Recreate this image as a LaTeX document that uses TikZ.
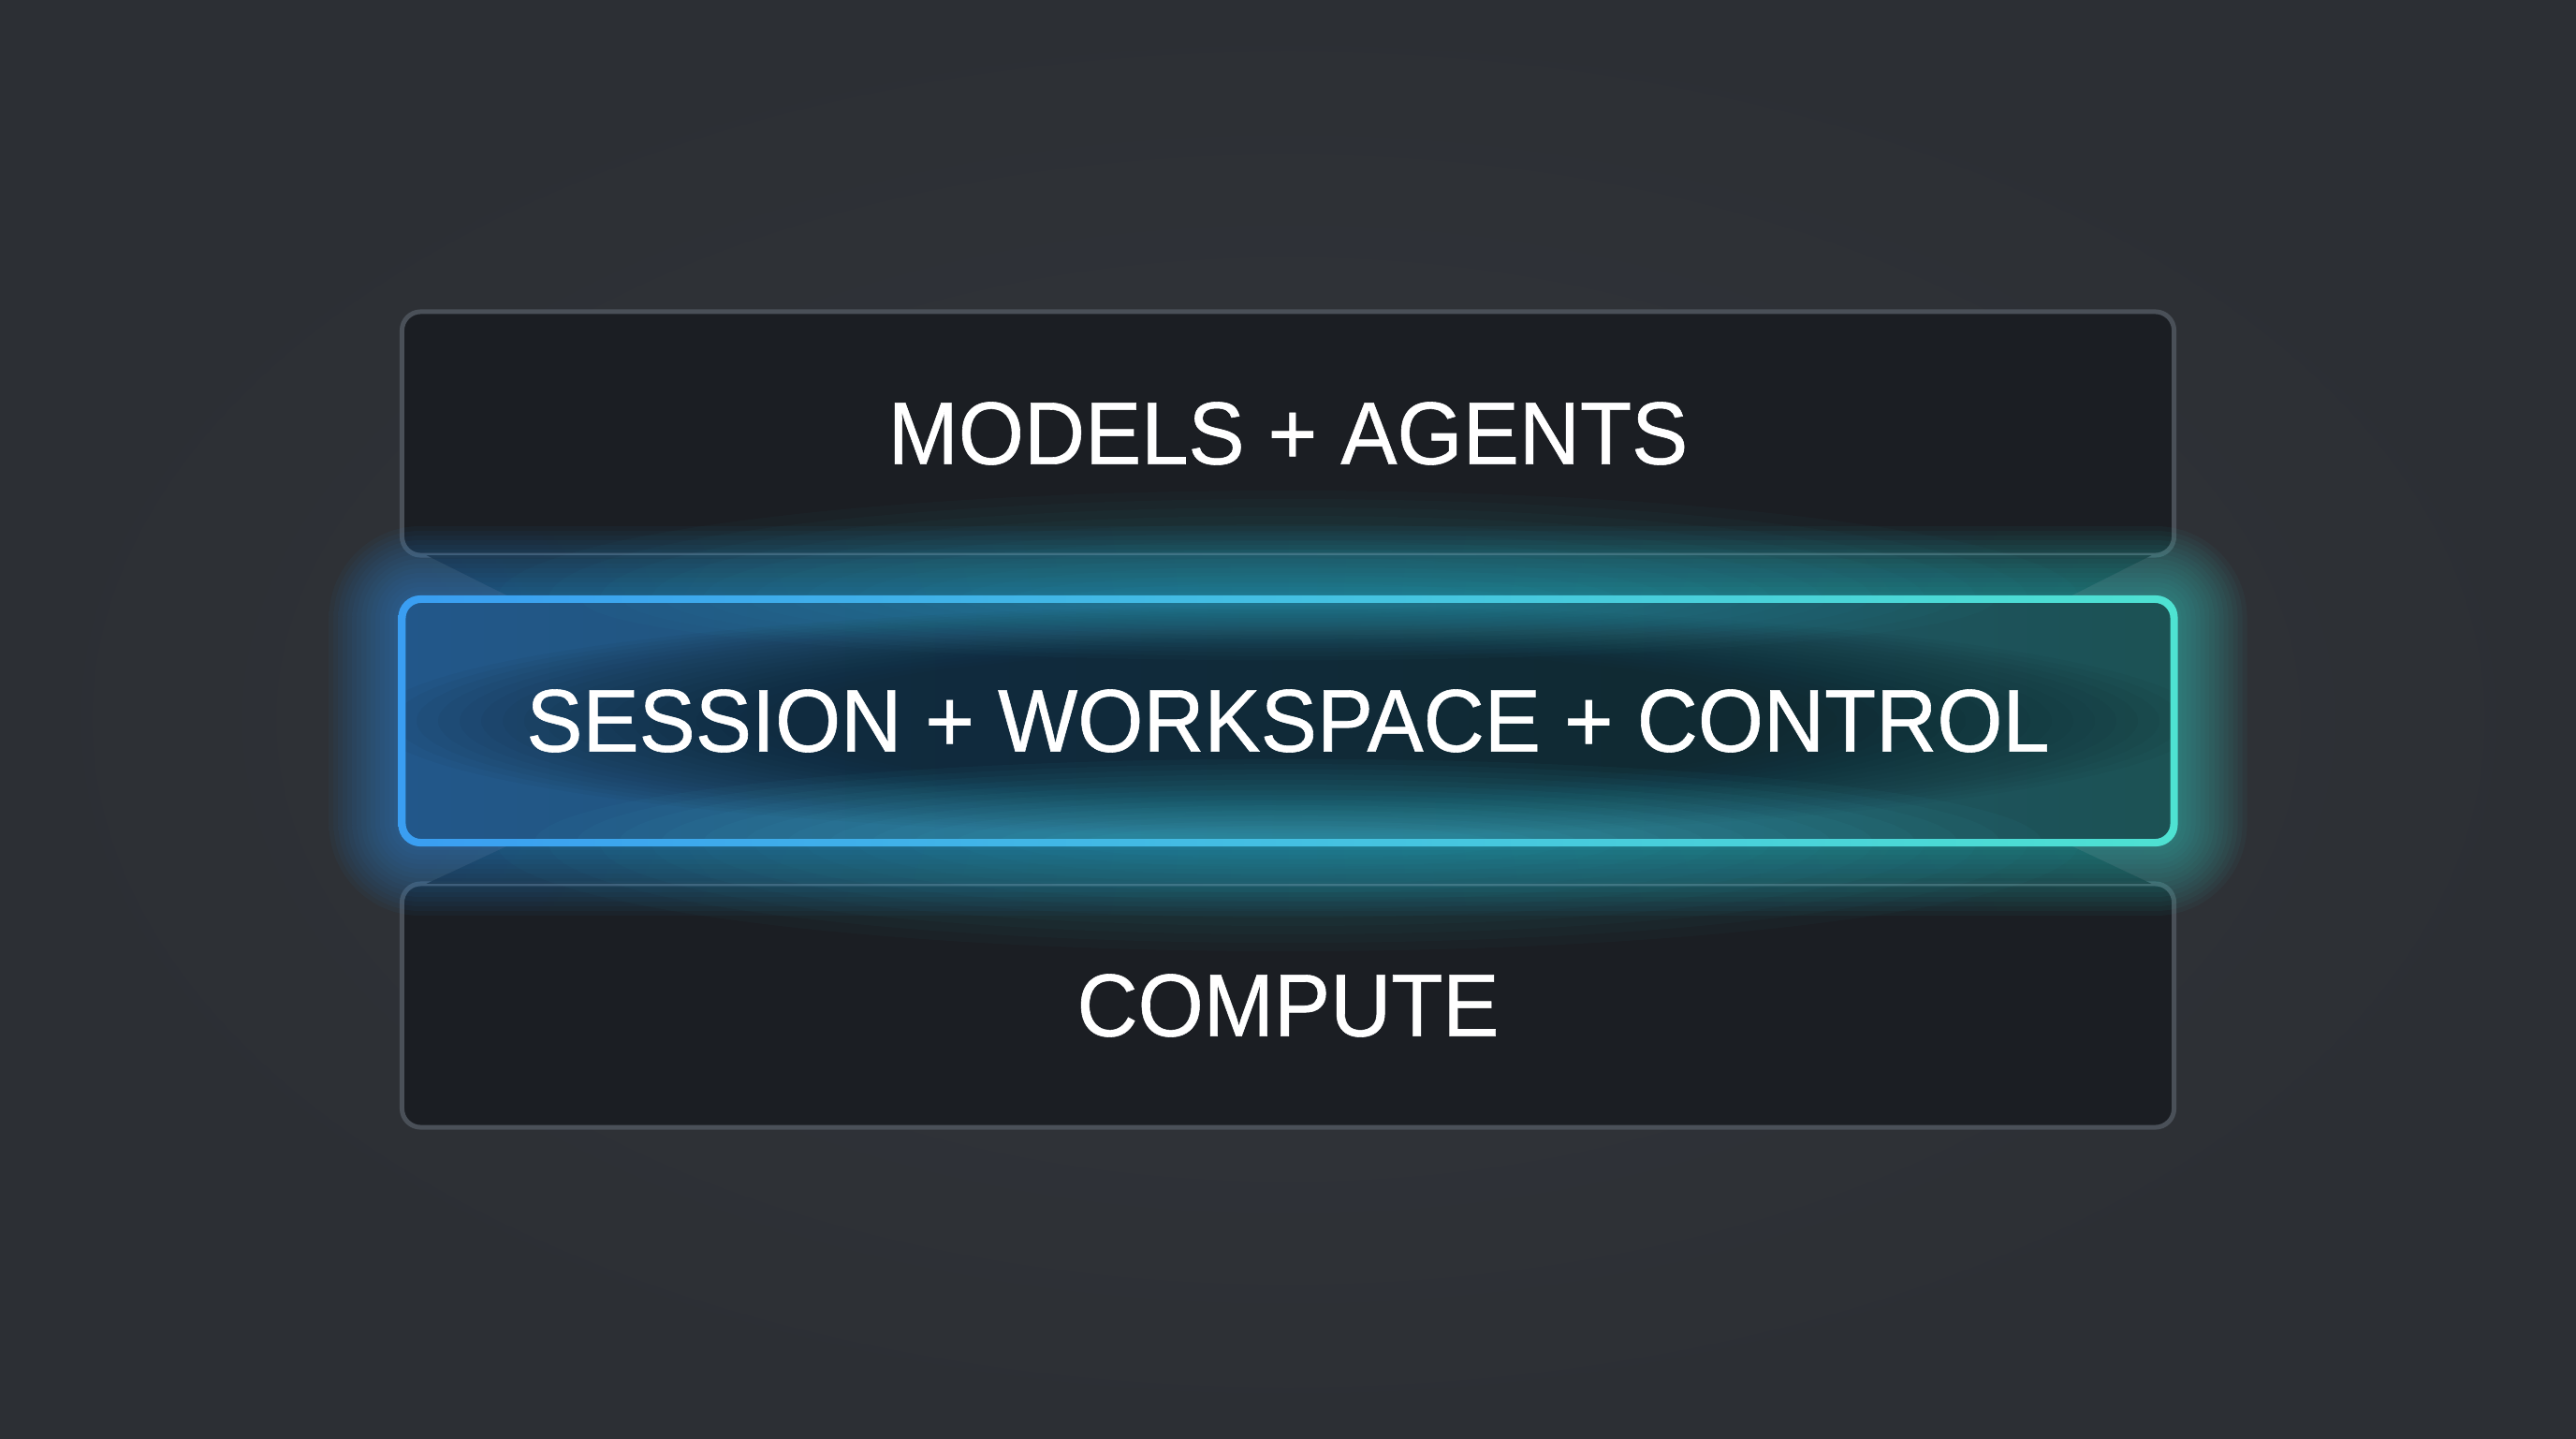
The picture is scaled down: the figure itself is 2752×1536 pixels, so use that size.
\documentclass[tikz,border=0pt]{standalone}
\usepackage{fontspec}
\newfontfamily\lab[FakeStretch=0.95,FakeBold=0.6]{Liberation Sans}
\usetikzlibrary{calc}
\definecolor{bgin}{HTML}{33363C}
\definecolor{bgout}{HTML}{2C2F34}
\definecolor{boxfill}{HTML}{1B1E23}
\definecolor{boxline}{HTML}{4A5058}
\definecolor{gblue}{HTML}{2A8FE8}
\definecolor{gteal}{HTML}{2FD0C8}
\definecolor{gcyan}{HTML}{45D8E8}
\definecolor{lblue}{HTML}{3A9EF2}
\definecolor{lmid}{HTML}{70E4F2}
\definecolor{lteal}{HTML}{4EE2D2}
\definecolor{inblue}{HTML}{22578A}
\definecolor{inmid}{HTML}{1A3C4A}
\definecolor{inteal}{HTML}{1C5254}
\definecolor{darkc}{HTML}{10171D}
\begin{document}
\begin{tikzpicture}[x=0.01cm,y=-0.01cm,
  layerbox/.style={rectangle, rounded corners=0.2cm, minimum width=18.92cm, minimum height=2.6cm, inner sep=0pt, outer sep=0pt},
  labeltext/.style={text=white, font=\lab\fontsize{27}{32}\selectfont, inner sep=0pt},
  boxborder/.style={draw=boxline, line width=0.05cm, rounded corners=0.2cm},
]
\shade[inner color=bgin, outer color=bgout] (0,0) rectangle (2752,1536);
\useasboundingbox (0,0) rectangle (2752,1536);

% layer boxes
\node[layerbox, fill=boxfill] (top) at (1376,463) {};
\node[layerbox, fill=boxfill] (bot) at (1376,1074) {};
\node[layerbox] (mid) at (1376,770) {};
\path[boxborder] (top.north west) rectangle (top.south east);
\path[boxborder] (bot.north west) rectangle (bot.south east);

% connecting trapezoids
\fill[boxfill, opacity=0.9] ($(top.south west)+(26,0)$) -- ($(top.south east)+(-24,0)$)
  -- ($(mid.north east)+(-117,0)$) -- ($(mid.north west)+(120,0)$) -- cycle;
\fill[boxfill, opacity=0.9] ($(mid.south west)+(120,0)$) -- ($(mid.south east)+(-117,0)$)
  -- ($(bot.north east)+(-24,0)$) -- ($(bot.north west)+(26,0)$) -- cycle;

% outer glow of the middle layer
\foreach \d [evaluate=\d as \r using (20+\d)/100] in {3,8,...,78} {
  \shade[left color=gblue, right color=gteal, fill opacity=0.045, rounded corners=\r cm]
    ($(mid.north west)+(-\d,-\d)$) rectangle ($(mid.south east)+(\d,\d)$);
}
\foreach \k in {1,...,12} {
  \fill[gcyan, opacity=0.022] ($(mid.north)$) ellipse ({900-\k*55} and {125-\k*9});
  \fill[gcyan, opacity=0.022] ($(mid.south)$) ellipse ({900-\k*55} and {125-\k*9});
}

% middle layer interior
\begin{scope}
  \clip[rounded corners=0.2cm] (mid.north west) rectangle (mid.south east);
  \shade[left color=inblue, middle color=inmid, right color=inteal] (mid.north west) rectangle (mid.south east);
  \foreach \k in {1,...,20} {
    \fill[darkc, opacity=0.045] (mid.center) ellipse ({1000-\k*23} and {125-\k*2.5});
  }
  \foreach \k in {1,...,14} {
    \fill[gcyan, opacity=0.035] (mid.south) ellipse ({850-\k*45} and {95-\k*5.5});
    \fill[gcyan, opacity=0.022] (mid.north) ellipse ({800-\k*45} and {70-\k*4.5});
  }
\end{scope}

% glowing border of the middle layer
\shade[left color=lblue, middle color=lmid, right color=lteal, even odd rule]
  [rounded corners=0.235cm] ($(mid.north west)+(-4,-4)$) rectangle ($(mid.south east)+(4,4)$)
  [rounded corners=0.165cm] ($(mid.north west)+(4,4)$) rectangle ($(mid.south east)+(-4,-4)$);

% labels
\node[labeltext] (t1) at (top.center) {MODELS + AGENTS};
\node[labeltext] (t2) at (mid.center) {SESSION + WORKSPACE + CONTROL};
\node[labeltext] (t3) at (bot.center) {COMPUTE};
\end{tikzpicture}
\end{document}
